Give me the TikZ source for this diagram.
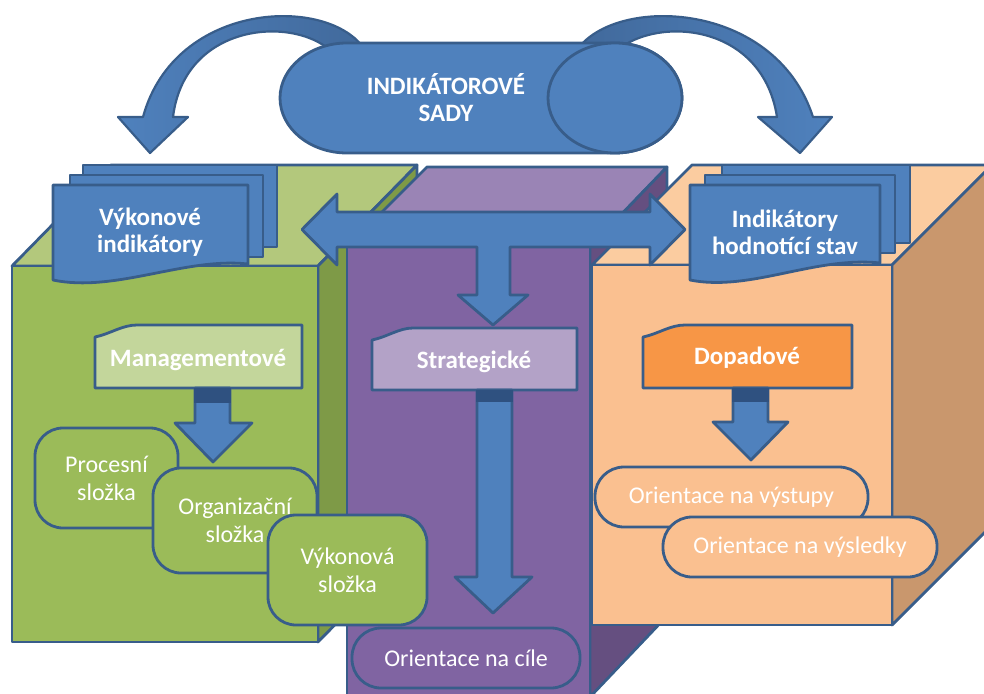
\documentclass[tikz,border=0pt]{standalone}
\usepackage{fontspec}
\setmainfont{Carlito}
\definecolor{blueF}{HTML}{4F81BD}
\definecolor{blueD}{HTML}{385D8A}
\definecolor{blueS}{HTML}{2F5180}
\definecolor{blueB}{HTML}{41699B}
\definecolor{greenF}{HTML}{9BBB59}
\definecolor{greenT}{HTML}{B3C87C}
\definecolor{greenS}{HTML}{7E9A47}
\definecolor{purpF}{HTML}{8064A2}
\definecolor{purpT}{HTML}{9A84B5}
\definecolor{purpS}{HTML}{654F80}
\definecolor{orF}{HTML}{FAC090}
\definecolor{orT}{HTML}{FBCCA0}
\definecolor{orS}{HTML}{C9976D}
\definecolor{mgmtF}{HTML}{C3D69B}
\definecolor{stratF}{HTML}{B3A2C7}
\definecolor{dopF}{HTML}{F79646}
\tikzset{
  bd/.style={draw=blueD, line width=2.8pt, line join=round},
  lbl/.style={text=white, font=\fontsize{25}{27}\selectfont\bfseries, align=center, inner sep=0pt},
  rbox/.style={draw=blueD, line width=2.8pt, rounded corners=28pt, inner sep=0pt, align=center, text=white, font=\fontsize{24}{28}\selectfont},
  sbox/.style={rbox, rounded corners=29pt}
}
\begin{document}
\begin{tikzpicture}[x=1pt,y=-1pt]
\useasboundingbox (0,0) rectangle (984,693);
% curved arrows
\draw[bd, line width=2.2pt, left color=blueF, right color=blueB] (365,50) .. controls (330,-5) and (175,0) .. (143,117) -- (118,117) -- (150,153) -- (188,117) -- (173,117) .. controls (185,20) and (300,15) .. (335,55) -- cycle;
\draw[bd, line width=2.2pt, left color=blueB, right color=blueF] (577,50) .. controls (615,-5) and (775,0) .. (813,117) -- (832,117) -- (800,153) -- (758,117) -- (777,117) .. controls (762,20) and (650,15) .. (612,55) -- cycle;
% cylinder
\draw[bd, fill=blueF] (347,153) arc[start angle=90, end angle=270, x radius=67, y radius=55] -- (615,43) arc[start angle=270, end angle=450, x radius=67, y radius=55] -- cycle;
\draw[bd, fill=blueF] (615,98) ellipse [x radius=67, y radius=55];
\node[lbl] (title) at (446,98) {INDIKÁTOROVÉ\\SADY};
% green cube
\draw[bd, fill=greenT] (12,266) -- (111,165) -- (417,165) -- (318,266) -- cycle;
\draw[bd, fill=greenS] (318,266) -- (417,165) -- (417,541) -- (318,642) -- cycle;
\draw[bd, fill=greenF] (12,266) rectangle (318,642);
% left docs
\draw[bd, fill=blueF] (83,165) rectangle (277,247);
\draw[bd, fill=blueF] (70,175) rectangle (263,257);
\draw[bd, fill=blueF] (53,185) -- (248,185) -- (248,264) .. controls (185,257) and (115,293) .. (53,280) -- cycle;
\node[lbl] (vyk) at (150,232) {Výkonové\\indikátory};
% purple column
\draw[bd, fill=purpT] (347,247) -- (427,167) -- (667,167) -- (590,247) -- cycle;
\draw[bd, fill=purpS] (590,247) -- (667,167) -- (667,616) -- (590,697) -- cycle;
\draw[bd, fill=purpF] (347,247) rectangle (590,700);
% orange cube
\draw[bd, fill=orT] (592,265) -- (692,165) -- (992,165) -- (892,265) -- cycle;
\draw[bd, fill=orS] (892,265) -- (992,165) -- (992,525) -- (892,625) -- cycle;
\draw[bd, fill=orF] (592,265) rectangle (892,625);
% right docs
\draw[bd, fill=blueF] (722,165) rectangle (910,243);
\draw[bd, fill=blueF] (705,175) rectangle (895,253);
\draw[bd, fill=blueF] (690,185) -- (880,185) -- (880,263) .. controls (815,256) and (750,292) .. (690,280) -- cycle;
\node[lbl] (hod) at (785,232) {Indikátory\\hodnotící stav};
% T arrow
\draw[bd, fill=blueF] (302,229.5) -- (337,194) -- (337,212) -- (650,212) -- (650,194) -- (685,229.5) -- (650,265) -- (650,247) -- (510,247) -- (510,295) -- (528,295) -- (493,325) -- (458,295) -- (477,295) -- (477,247) -- (337,247) -- (337,265) -- cycle;
% label boxes
\draw[bd, fill=mgmtF] (95,337) .. controls (110,334) and (122,325) .. (137,325) -- (302,325) -- (302,388) -- (95,388) -- cycle;
\node[lbl] (mgmt) at (198,360) {Managementové};
\draw[bd, fill=stratF] (372,340) .. controls (387,337) and (399,328) .. (413,328) -- (577,328) -- (577,390) -- (372,390) -- cycle;
\node[lbl] (strat) at (474,362) {Strategické};
\draw[bd, fill=dopF] (643,337) .. controls (658,334) and (670,325) .. (685,325) -- (852,325) -- (852,388) -- (643,388) -- cycle;
\node[lbl] (dop) at (747,358) {Dopadové};
% small arrows
\draw[bd, fill=blueF] (195,388) -- (230,388) -- (230,423) -- (252,423) -- (213,462) -- (175,423) -- (195,423) -- cycle;
\fill[blueS] (193.6,388) rectangle (231.4,403);
\draw[bd, fill=blueF] (477,390) -- (512,390) -- (512,577) -- (532,577) -- (493,613) -- (455,577) -- (477,577) -- cycle;
\fill[blueS] (475.6,390) rectangle (513.4,402);
\draw[bd, fill=blueF] (733,388) -- (768,388) -- (768,422) -- (788,422) -- (751,460) -- (713,422) -- (733,422) -- cycle;
\fill[blueS] (731.6,388) rectangle (769.4,402);
% rounded boxes green
\node[rbox, fill=greenF, minimum width=143pt, minimum height=100pt] (proc) at (106.5,478) {Procesní\\složka};
\node[rbox, fill=greenF, minimum width=164pt, minimum height=105pt] (org) at (235,520.5) {Organizační\\složka};
\node[rbox, fill=greenF, minimum width=159pt, minimum height=110pt] (vyko) at (347.5,570) {Výkonová\\složka};
% purple
\node[sbox, fill=purpF, minimum width=228pt, minimum height=60pt] (cile) at (466,658) {Orientace na cíle};
% orange
\node[sbox, fill=orF, minimum width=273pt, minimum height=60pt] (vyst) at (731.5,497) {Orientace na výstupy};
\node[sbox, fill=orF, minimum width=274pt, minimum height=60pt] (vysl) at (800,547) {Orientace na výsledky};
\end{tikzpicture}
\end{document}
